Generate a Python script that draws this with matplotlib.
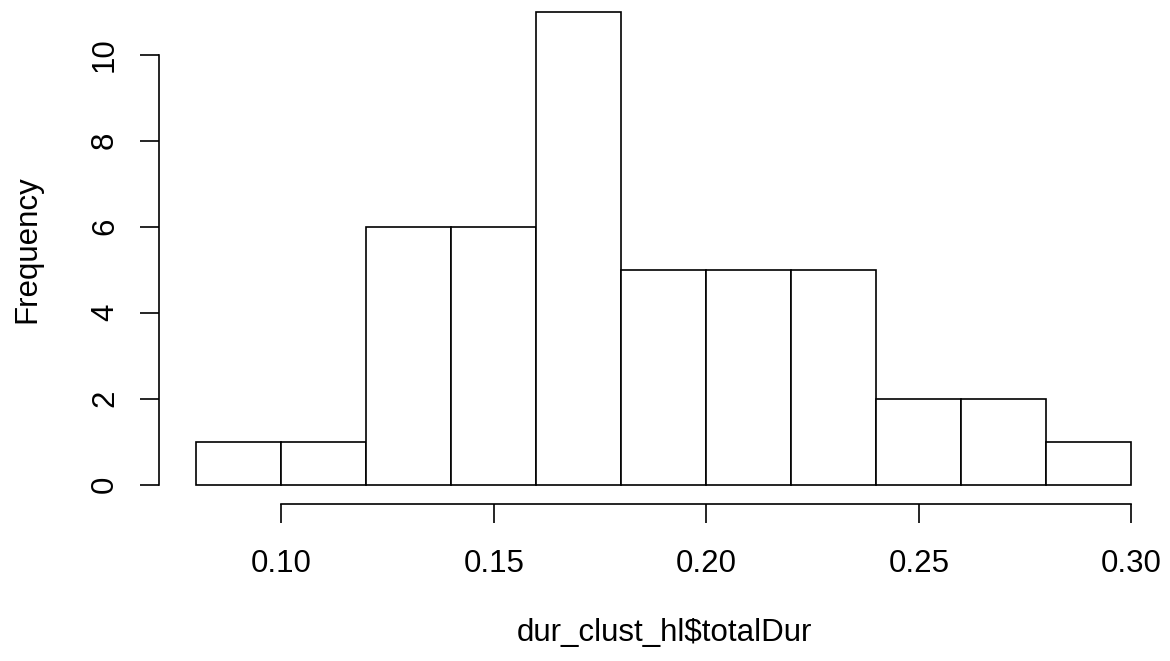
import matplotlib.pyplot as plt
import numpy as np

plt.rcParams['font.family'] = ['Liberation Sans', 'DejaVu Sans']

# histogram bins and counts for totalDur
bin_edges = [0.08, 0.10, 0.12, 0.14, 0.16, 0.18, 0.20, 0.22, 0.24, 0.26, 0.28, 0.30]
counts = [1, 1, 6, 6, 11, 5, 5, 5, 2, 2, 1]
x_ticks = [0.10, 0.15, 0.20, 0.25, 0.30]
y_ticks = [0, 2, 4, 6, 8, 10]

W, H = 1170, 661
fig = plt.figure(figsize=(W / 100, H / 100), dpi=100)

# plot region like R's defaults (4% padding around the data range)
x0, x1 = bin_edges[0], bin_edges[-1]
pad_x = 0.04 * (x1 - x0)
y1 = max(counts)
pad_y = 0.04 * y1
xl, xr = x0 - pad_x, x1 + pad_x
yb, yt = -pad_y, y1 + pad_y

px_per_x = (1131.3 - 281.3) / 0.20
left_px = 281.3 + (xl - 0.10) * px_per_x
right_px = 281.3 + (xr - 0.10) * px_per_x
px_per_y = 43.0
bottom_px = 484.7 + pad_y * px_per_y
top_px = 484.7 - yt * px_per_y

ax = fig.add_axes([left_px / W, 1 - bottom_px / H,
                   (right_px - left_px) / W, (bottom_px - top_px) / H])
ax.set_xlim(xl, xr)
ax.set_ylim(yb, yt)

lw = 1.2
widths = np.diff(bin_edges)
ax.bar(bin_edges[:-1], counts, width=widths, align='edge',
       facecolor='white', edgecolor='black', linewidth=lw, clip_on=False)

for s in ['top', 'right']:
    ax.spines[s].set_visible(False)
ax.spines['left'].set_bounds(y_ticks[0], y_ticks[-1])
ax.spines['bottom'].set_bounds(x_ticks[0], x_ticks[-1])
ax.spines['left'].set_linewidth(lw)
ax.spines['bottom'].set_linewidth(lw)

fs = 22.5
ax.set_xticks(x_ticks)
ax.set_xticklabels(['%.2f' % v for v in x_ticks])
ax.set_yticks(y_ticks)
ax.set_yticklabels([str(v) for v in y_ticks], rotation=90, va='center')
ax.tick_params(axis='both', length=14, width=lw, labelsize=fs)
ax.tick_params(axis='x', pad=19)
ax.tick_params(axis='y', pad=14)

fig.text(27 / W, 1 - 249 / H, 'Frequency', rotation=90, ha='center', va='center', fontsize=fs)
fig.text(664 / W, 1 - 633 / H, 'dur_clust_hl$totalDur', ha='center', va='center', fontsize=fs)

fig.savefig('out.png', dpi=100)
